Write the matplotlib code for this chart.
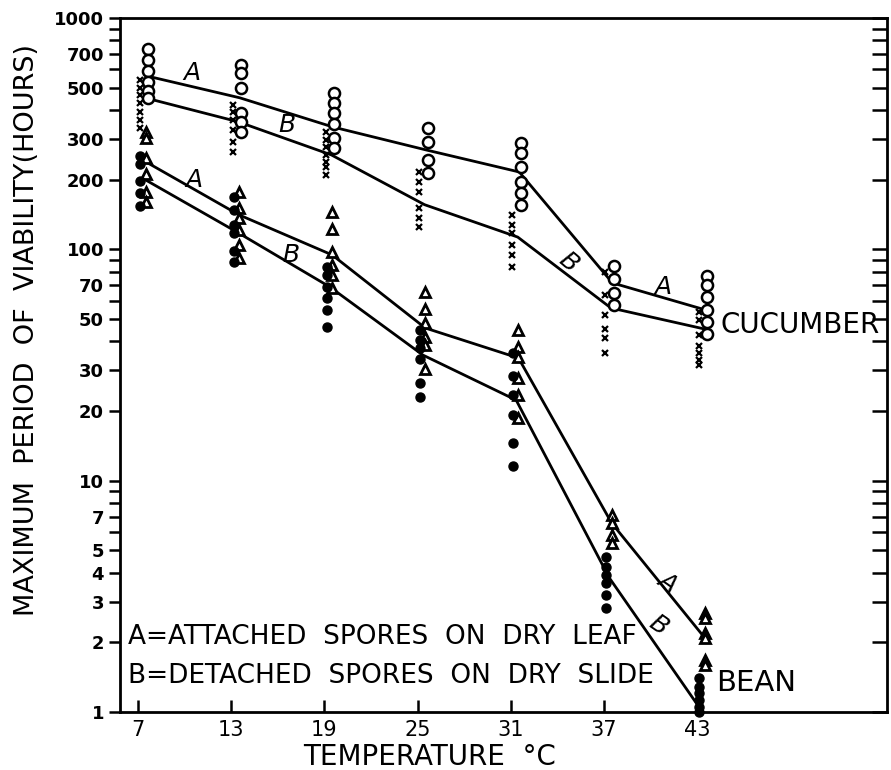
import matplotlib
matplotlib.use('Agg')
import matplotlib.pyplot as plt
from matplotlib.ticker import FixedLocator, NullFormatter

plt.rcParams['font.family'] = 'DejaVu Sans'

temps = [7, 13, 19, 25, 31, 37, 43]

# scattered observations (hours), one list per temperature
cuc_a_pts = [
    [735, 659, 591, 529, 484, 452],
    [627, 579, 499, 389, 356, 322],
    [475, 430, 389, 349, 303, 274],
    [335, 291, 244, 214],
    [288, 261, 227, 196, 175, 156],
    [84.8, 74.5, 64.8, 57.5],
    [76.7, 70.2, 62.3, 54.7, 48.5, 43.1],
]
cuc_b_pts = [
    [540, 499, 465, 430, 393, 363, 335],
    [421, 393, 363, 328, 291, 264],
    [322, 297, 277, 256, 239, 227, 210],
    [216, 196, 177, 151, 137, 125],
    [141, 128, 118, 104, 94.6, 84],
    [79.8, 63.5, 52.1, 45.3, 41.4, 35.7],
    [53.6, 49.5, 42.7, 38.2, 35.7, 33.2, 31.6],
]
bean_a_pts = [
    [322, 303, 248, 212, 177, 160],
    [177, 151, 137, 121, 104, 91.6],
    [145, 122, 97.5, 85.7, 77.5, 68.1],
    [65.4, 55.3, 48.1, 41.8, 38.6, 30.4],
    [44.8, 37.8, 34.3, 27.8, 23.5, 18.7],
    [7.11, 6.56, 5.82, 5.38],
    [2.68, 2.55, 2.20, 2.09, 1.68, 1.60],
]
bean_b_pts = [
    [254, 234, 198, 175, 154],
    [169, 148, 128, 118, 98.4, 88.3],
    [84, 77.5, 68.8, 61.6, 54.7, 46.2],
    [44.8, 40.6, 37.5, 33.6, 26.4, 23.0],
    [35.7, 28.4, 23.5, 19.2, 14.6, 11.6],
    [4.68, 4.24, 3.91, 3.61, 3.21, 2.82],
    [1.40, 1.28, 1.21, 1.13, 1.05, 1.0],
]

# fitted lines
cuc_a_line = [562, 452, 338, 269, 216, 71.6, 54.7]
cuc_b_line = [452, 356, 256, 156, 113, 55.8, 45.3]
bean_a_line = [239, 141, 94.6, 45.7, 33.9, 6.56, 2.09]
bean_b_line = [202, 119, 68.8, 34.9, 22.3, 3.80, 1.0]

yticks = [1, 2, 3, 4, 5, 7, 10, 20, 30, 50, 70, 100, 200, 300, 500, 700, 1000]
yticks_minor = [m * 10 ** d for d in range(3) for m in range(1, 10)] + [1000]

fig = plt.figure(figsize=(8.91, 7.70), dpi=100)
ax = fig.add_axes([0.1347, 0.0753, 0.8608, 0.9013])
ax.set_yscale('log')
ax.set_xlim(5.84, 55.23)
ax.set_ylim(1, 1000)

for line, dx in [(cuc_a_line, 0.55), (cuc_b_line, 0.45), (bean_a_line, 0.5), (bean_b_line, 0.35)]:
    ax.plot([t + dx for t in temps], line, color='black', lw=2, zorder=2, clip_on=False)

def scatter(pts, dx, **kw):
    xs, ys = [], []
    for t, vals in zip(temps, pts):
        xs += [t + dx] * len(vals)
        ys += vals
    ax.plot(xs, ys, ls='none', zorder=3, clip_on=False, **kw)

scatter(cuc_a_pts, 0.65, marker='o', ms=8, mfc='white', mec='black', mew=1.8)
scatter(cuc_b_pts, 0.1, marker='x', ms=4.5, color='black', mew=1.6)
scatter(bean_a_pts, 0.5, marker='^', ms=6.5, mfc='white', mec='black', mew=2)
scatter(bean_b_pts, 0.15, marker='o', ms=6.5, color='black')

for s in ax.spines.values():
    s.set_linewidth(2)

ax.set_xticks(temps)
ax.set_xticklabels([str(t) for t in temps], fontsize=15)
ax.tick_params(axis='x', direction='in', length=9, width=1.8, pad=6)

ax.yaxis.set_major_locator(FixedLocator(yticks))
ax.yaxis.set_minor_locator(FixedLocator(yticks_minor))
ax.yaxis.set_minor_formatter(NullFormatter())
ax.set_yticklabels([str(v) for v in yticks], fontsize=13, fontweight='bold')
ax.tick_params(axis='y', which='both', direction='out', length=8, width=1.8,
               right=True, labelright=False)
for tk in ax.yaxis.get_major_ticks() + ax.yaxis.get_minor_ticks():
    tk.tick2line.set_marker(0)
    tk.tick2line.set_markersize(11)

ax.set_ylabel('MAXIMUM  PERIOD  OF  VIABILITY(HOURS)', fontsize=19.5)
ax.yaxis.set_label_coords(-0.104, 0.55)
ax.set_xlabel('TEMPERATURE  \u00b0C', fontsize=20, labelpad=0)
ax.xaxis.set_label_coords(0.404, -0.045)

lab = dict(fontsize=18, style='italic', ha='center', va='center')
ax.text(10.48, 579, 'A', **lab)
ax.text(16.59, 345, 'B', **lab)
ax.text(10.6, 199, 'A', **lab)
ax.text(16.85, 94.6, 'B', **lab)
ax.text(34.69, 88.3, 'B', rotation=-40, **lab)
ax.text(40.8, 68.8, 'A', **lab)
ax.text(41.06, 3.65, 'A', rotation=-35, **lab)
ax.text(40.48, 2.38, 'B', rotation=-35, **lab)

ax.text(44.48, 47.1, 'CUCUMBER', fontsize=20, ha='left', va='center')
ax.text(44.22, 1.33, 'BEAN', fontsize=21, ha='left', va='center')
ax.text(6.36, 2.11, 'A=ATTACHED  SPORES  ON  DRY  LEAF', fontsize=19, ha='left', va='center')
ax.text(6.36, 1.43, 'B=DETACHED  SPORES  ON  DRY  SLIDE', fontsize=19, ha='left', va='center')

fig.savefig('out.png', dpi=100)
